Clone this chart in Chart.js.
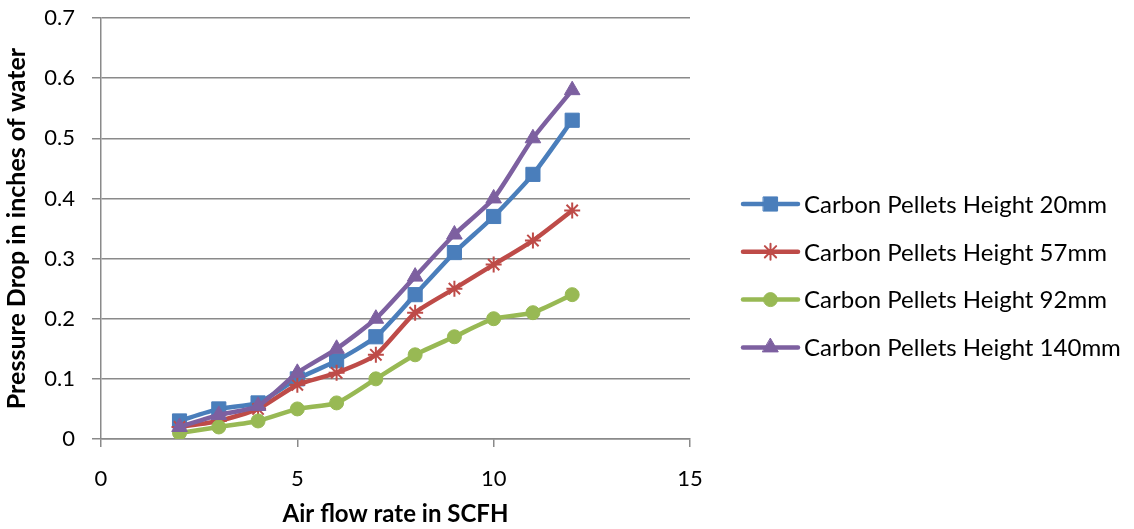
<!DOCTYPE html>
<html lang="en">

<head>
    <meta charset="UTF-8">
    <title>Pressure Drop vs Air Flow</title>
    <script src="https://cdn.jsdelivr.net/npm/chart.js"></script>
    <style>
        html, body { margin: 0; padding: 0; background: #fff; }
        canvas { display: block; }
    </style>
</head>

<body>
    <canvas id="myChart" width="1134" height="529"></canvas>

    <script>
        // air flow rate (SCFH)
        const flowRates = [2, 3, 4, 5, 6, 7, 8, 9, 10, 11, 12];

        // pressure drop (inches of water) per bed height
        const height20 = [0.03, 0.05, 0.06, 0.10, 0.13, 0.17, 0.24, 0.31, 0.37, 0.44, 0.53];
        const height57 = [0.02, 0.03, 0.05, 0.09, 0.11, 0.14, 0.21, 0.25, 0.29, 0.33, 0.38];
        const height92 = [0.01, 0.02, 0.03, 0.05, 0.06, 0.10, 0.14, 0.17, 0.20, 0.21, 0.24];
        const height140 = [0.02, 0.04, 0.055, 0.11, 0.15, 0.20, 0.27, 0.34, 0.40, 0.50, 0.58];

        const seriesNames = [
            'Carbon Pellets Height 20mm',
            'Carbon Pellets Height 57mm',
            'Carbon Pellets Height 92mm',
            'Carbon Pellets Height 140mm'
        ];

        const xTicks = [0, 5, 10, 15];
        const yTicks = [0, 0.1, 0.2, 0.3, 0.4, 0.5, 0.6, 0.7];

        const FONT = "Lato, 'Noto Sans', sans-serif";
        const GRID = '#8a8a8a';

        function toPoints(values) {
            return flowRates.map((x, i) => ({ x: x, y: values[i] }));
        }

        function makeSeries(label, values, color, style, radius, order) {
            return {
                label: label,
                data: toPoints(values),
                borderColor: color,
                backgroundColor: color,
                borderWidth: 4.5,
                tension: 0.2,
                pointStyle: style,
                pointRadius: radius,
                pointHoverRadius: radius,
                pointBackgroundColor: color,
                pointBorderColor: color,
                pointBorderWidth: style === 'star' ? 2 : 1,
                order: order
            };
        }

        const datasets = [
            makeSeries(seriesNames[0], height20, '#4a7ebb', 'rect', 10, 4),
            makeSeries(seriesNames[1], height57, '#be4b48', 'star', 8, 3),
            makeSeries(seriesNames[2], height92, '#98b954', 'circle', 7, 2),
            makeSeries(seriesNames[3], height140, '#7d60a0', 'triangle', 9, 1)
        ];

        // legend on the right: short line with the marker in the middle
        const sideLegend = {
            id: 'sideLegend',
            afterDraw(chart) {
                const ctx = chart.ctx;
                const x0 = 743, x1 = 798, textX = 804;
                const top = 204, step = 47.8;
                ctx.save();
                datasets.forEach((ds, i) => {
                    const y = top + i * step;
                    ctx.strokeStyle = ds.borderColor;
                    ctx.lineWidth = 4.5;
                    ctx.lineCap = 'round';
                    ctx.beginPath();
                    ctx.moveTo(x0, y);
                    ctx.lineTo(x1, y);
                    ctx.stroke();
                    ctx.fillStyle = ds.pointBackgroundColor;
                    ctx.strokeStyle = ds.pointBorderColor;
                    ctx.lineWidth = ds.pointBorderWidth;
                    Chart.helpers.drawPoint(ctx, {
                        pointStyle: ds.pointStyle,
                        radius: ds.pointRadius,
                        rotation: 0,
                        borderWidth: ds.pointBorderWidth
                    }, (x0 + x1) / 2, y);
                    ctx.fillStyle = '#000';
                    ctx.font = '24px ' + FONT;
                    ctx.textBaseline = 'middle';
                    ctx.textAlign = 'left';
                    ctx.fillText(ds.label, textX, y + 1);
                });
                ctx.restore();
            }
        };

        new Chart(document.getElementById('myChart'), {
            type: 'line',
            data: { datasets: datasets },
            plugins: [sideLegend],
            options: {
                responsive: false,
                animation: false,
                devicePixelRatio: 1,
                layout: { padding: { top: 18, right: 444, left: 0, bottom: 0 } },
                plugins: {
                    legend: { display: false },
                    tooltip: { enabled: false }
                },
                scales: {
                    x: {
                        type: 'linear',
                        min: xTicks[0],
                        max: xTicks[xTicks.length - 1],
                        afterBuildTicks: (scale) => { scale.ticks = xTicks.map(v => ({ value: v })); },
                        afterFit: (scale) => {
                            scale.height = 90;
                            scale.paddingLeft = 0;
                            scale.paddingRight = 0;
                        },
                        grid: {
                            drawOnChartArea: false,
                            drawTicks: true,
                            tickLength: 8,
                            color: GRID,
                            lineWidth: 1.5
                        },
                        border: { color: GRID, width: 1.5 },
                        ticks: {
                            padding: 19,
                            color: '#000',
                            font: { family: FONT, size: 22 }
                        },
                        title: {
                            display: true,
                            text: 'Air flow rate in SCFH',
                            color: '#000',
                            font: { family: FONT, size: 24, weight: 'bold' },
                            padding: { top: 0, bottom: 0 }
                        }
                    },
                    y: {
                        min: yTicks[0],
                        max: yTicks[yTicks.length - 1],
                        afterBuildTicks: (scale) => { scale.ticks = yTicks.map(v => ({ value: v })); },
                        afterFit: (scale) => {
                            scale.width = 101;
                            scale.paddingTop = 0;
                            scale.paddingBottom = 0;
                        },
                        grid: {
                            drawTicks: true,
                            tickLength: 9,
                            color: GRID,
                            lineWidth: 1.5
                        },
                        border: { color: GRID, width: 1.5 },
                        ticks: {
                            padding: 17,
                            color: '#000',
                            font: { family: FONT, size: 22 },
                            callback: (v) => String(Math.round(v * 10) / 10)
                        },
                        title: {
                            display: true,
                            text: 'Pressure Drop in inches of water',
                            color: '#000',
                            font: { family: FONT, size: 25, weight: 'bold' },
                            padding: { top: 2, bottom: 0 }
                        }
                    }
                }
            }
        });
    </script>
</body>

</html>
